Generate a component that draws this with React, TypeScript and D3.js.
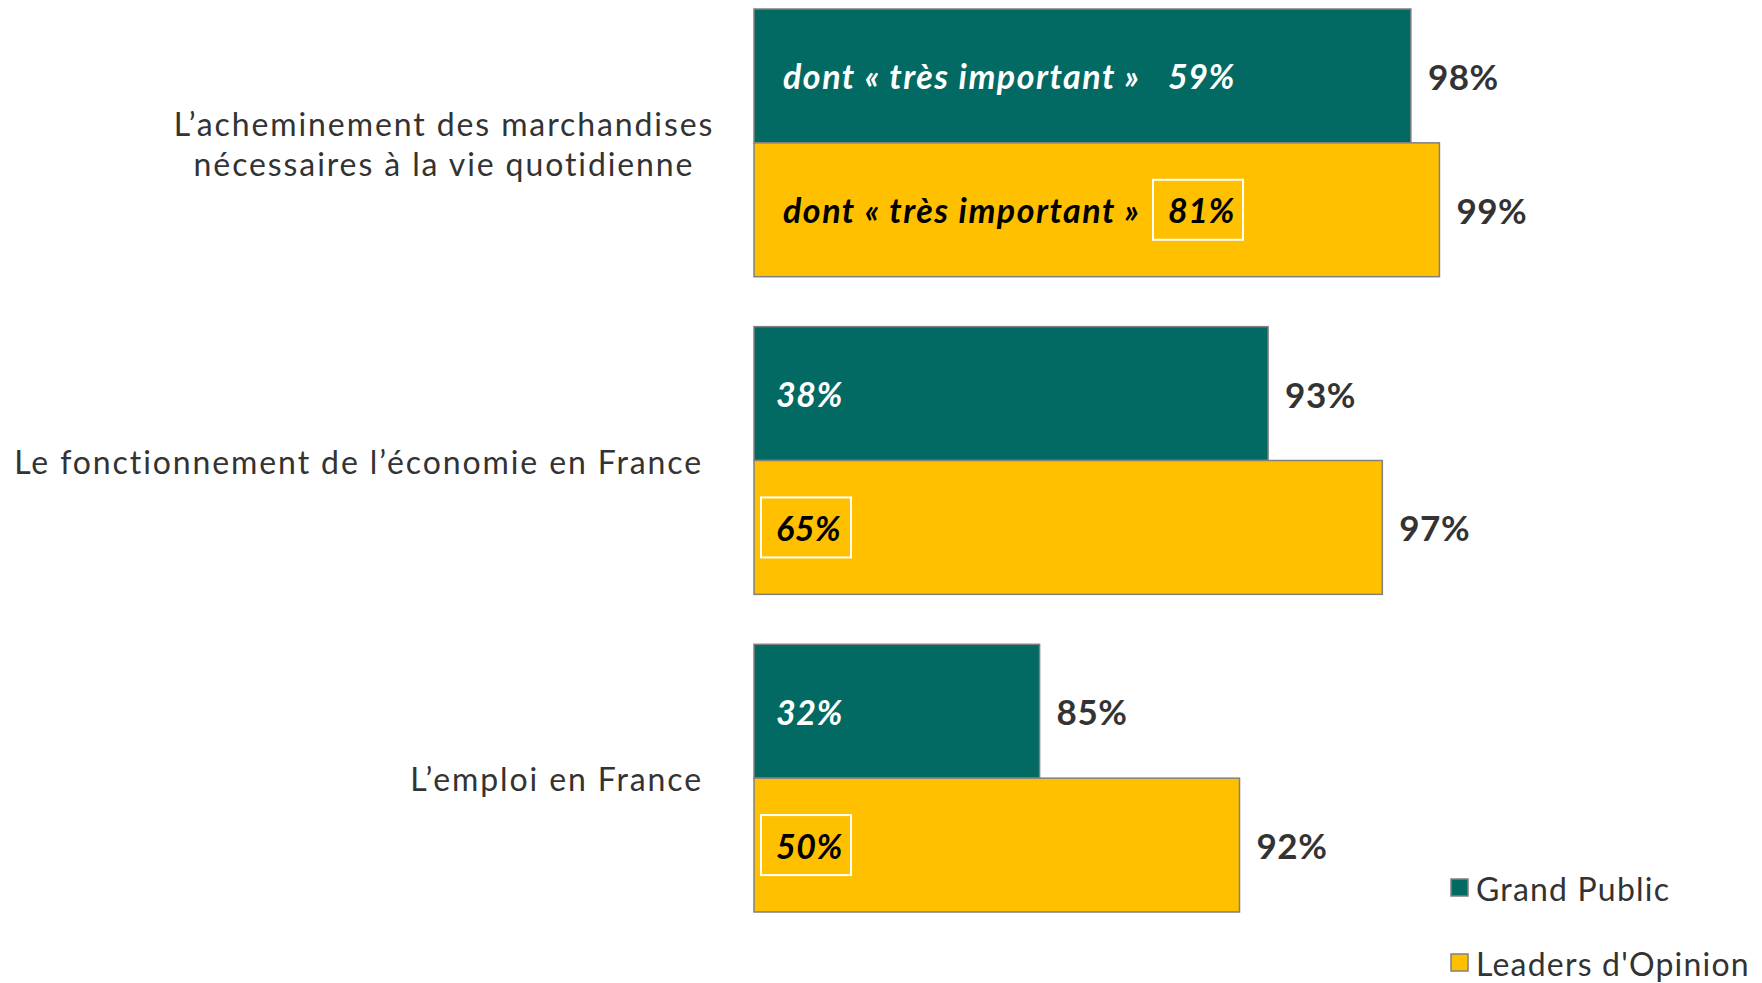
import React from "react";
import * as d3 from "d3";

const categories = [
  "L’acheminement des marchandises\nnécessaires à la vie quotidienne",
  "Le fonctionnement de l’économie en France",
  "L’emploi en France",
];
const seriesNames = ["Grand Public", "Leaders d'Opinion"];
const grandPublic = [98, 93, 85];
const leaders = [99, 97, 92];
const gpVeryImportant = [59, 38, 32];
const loVeryImportant = [81, 65, 50];
const veryImportantLabel = "dont « très important »";

const W = 1762;
const H = 983;
const TEAL = "#026963";
const YELLOW = "#FFC000";
const TXT = "#333333";
const FONT = "Lato, 'Noto Sans', sans-serif";

export default function App() {
  const x = d3.scaleLinear().domain([75, 100]).range([754, 1468]);
  const y = d3
    .scaleBand<string>()
    .domain(categories)
    .range([9, 912])
    .paddingInner(50 / 318)
    .paddingOuter(0);
  const sub = d3.scaleBand<string>().domain(seriesNames).range([0, y.bandwidth()]);
  const series = [
    { name: seriesNames[0], values: grandPublic, inner: gpVeryImportant, color: TEAL, innerColor: "#ffffff", boxed: false },
    { name: seriesNames[1], values: leaders, inner: loVeryImportant, color: YELLOW, innerColor: "#000000", boxed: true },
  ];

  return (
    <svg width={W} height={H} style={{ position: "absolute", left: 0, top: 0, background: "#fff" }} fontFamily={FONT}>
      {categories.map((cat, ci) => {
        const y0 = y(cat)!;
        const cy = y0 + y.bandwidth() / 2;
        const lines = cat.split("\n");
        const multi = lines.length > 1;
        const lx = multi ? 444 : 703;
        return (
          <g key={cat}>
            <text
              textAnchor={multi ? "middle" : "end"}
              fontSize={32}
              letterSpacing={1.9}
              fill={TXT}
              dominantBaseline="central"
            >
              {lines.map((l, li) => (
                <tspan key={li} x={lx} y={cy + (li - (lines.length - 1) / 2) * 40}>
                  {l}
                </tspan>
              ))}
            </text>
            {series.map((s) => {
              const by = y0 + sub(s.name)!;
              const bh = sub.bandwidth();
              const bcy = by + bh / 2;
              const x0 = x(75);
              const x1 = x(s.values[ci]);
              const pctX = ci === 0 ? 1168 : 776;
              return (
                <g key={s.name}>
                  <rect x={x0} y={by} width={x1 - x0} height={bh} fill={s.color} stroke="#808080" strokeWidth={1.5} />
                  {ci === 0 && (
                    <text x={783} y={bcy} dominantBaseline="central" fontSize={34} letterSpacing={1.5} fontWeight="bold" fontStyle="italic" fill={s.innerColor}>
                      {veryImportantLabel}
                    </text>
                  )}
                  {s.boxed && (
                    <rect x={pctX - 15} y={bcy - 30} width={90} height={60} fill="none" stroke="#ffffff" strokeWidth={2} />
                  )}
                  <text x={pctX} y={bcy} dominantBaseline="central" fontSize={34} letterSpacing={0.5} fontWeight="bold" fontStyle="italic" fill={s.innerColor}>
                    {s.inner[ci]}%
                  </text>
                  <text x={x1 + 17} y={bcy} dominantBaseline="central" fontSize={35} letterSpacing={0.5} fontWeight="bold" fill={TXT}>
                    {s.values[ci]}%
                  </text>
                </g>
              );
            })}
          </g>
        );
      })}
      {series.map((s, i) => {
        const ly = 888 + i * 75;
        return (
          <g key={s.name}>
            <rect x={1451} y={ly - 9} width={17} height={17} fill={s.color} stroke="#808080" strokeWidth={1.5} />
            <text x={1476} y={ly} dominantBaseline="central" fontSize={32} letterSpacing={1.2} fill={TXT}>
              {s.name}
            </text>
          </g>
        );
      })}
    </svg>
  );
}
